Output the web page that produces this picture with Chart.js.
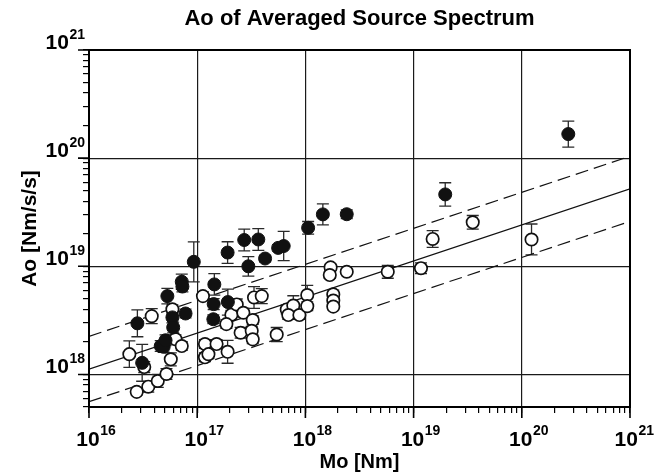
<!DOCTYPE html>
<html>
<head>
<meta charset="utf-8">
<script src="https://cdn.jsdelivr.net/npm/chart.js@4/dist/chart.umd.min.js"></script>
<style>
  html, body { margin: 0; padding: 0; background: #fff; }
  #wrap { width: 656px; height: 472px; }
</style>
</head>
<body>
<div id="wrap"><canvas id="c" width="656" height="472"></canvas></div>
<script>
// ---- Data ----
// Filled circles: seismic moment Mo [Nm], Ao [Nm/s/s], error half-width (decades)
const filledMo = [2.8e16, 3.1e16, 4.6e16, 4.9e16, 5.1e16, 5.3e16, 5.9e16, 6.0e16, 7.2e16, 7.3e16,
                  7.8e16, 9.3e16, 1.44e17, 1.42e17, 1.41e17, 1.91e17, 1.92e17, 2.72e17, 3.67e17, 2.97e17,
                  4.24e17, 5.6e17, 6.3e17, 1.06e18, 1.45e18, 2.41e18, 1.96e19, 2.69e20];
const filledAo = [2.97e18, 1.28e18, 1.83e18, 1.8e18, 2.07e18, 5.3e18, 3.37e18, 2.72e18, 7.2e18, 6.5e18,
                  3.66e18, 1.10e19, 6.8e18, 4.47e18, 3.24e18, 1.34e19, 4.67e18, 1.75e19, 1.77e19, 1.0e19,
                  1.18e19, 1.48e19, 1.54e19, 2.27e19, 3.02e19, 3.03e19, 4.62e19, 1.67e20];
const filledErr = [0.124, 0.17, 0.05, 0.05, 0.05, 0.072, 0.05, 0.05, 0.07, 0.05,
                   0.04, 0.185, 0.1, 0.05, 0.04, 0.1, 0.12, 0.1, 0.1, 0.09,
                   0.03, 0.03, 0.135, 0.058, 0.097, 0.04, 0.108, 0.12];

// Open circles
const openMo = [2.36e16, 2.76e16, 3.24e16, 3.53e16, 3.8e16, 4.32e16, 5.2e16, 5.7e16, 5.9e16, 6.3e16,
                7.2e16, 1.13e17, 1.18e17, 1.18e17, 1.27e17, 1.51e17, 1.91e17, 2.07e17, 1.86e17, 2.32e17,
                2.67e17, 3.26e17, 3.35e17, 3.95e17, 2.52e17, 3.19e17, 3.26e17, 5.43e17, 6.72e17, 7.73e17,
                6.95e17, 8.8e17, 1.04e18, 1.04e18, 1.71e18, 1.68e18, 2.41e18, 1.81e18, 1.81e18, 1.81e18,
                5.77e18, 1.17e19, 1.50e19, 3.52e19, 1.23e20];
const openAo = [1.54e18, 6.9e17, 1.17e18, 7.7e17, 3.46e18, 8.7e17, 1.01e18, 1.38e18, 4.0e18, 2.12e18,
                1.83e18, 5.3e18, 1.91e18, 1.44e18, 1.54e18, 1.91e18, 1.62e18, 3.57e18, 2.92e18, 4.44e18,
                3.72e18, 3.18e18, 5.15e18, 5.3e18, 2.43e18, 2.53e18, 2.11e18, 2.34e18, 3.99e18, 4.34e18,
                3.54e18, 3.54e18, 5.42e18, 4.28e18, 9.77e18, 8.3e18, 8.9e18, 5.5e18, 4.82e18, 4.24e18,
                8.9e18, 9.6e18, 1.79e19, 2.55e19, 1.77e19];
const openErr = [0.123, 0.03, 0.05, 0.05, 0.07, 0.06, 0.05, 0.06, 0.04, 0.04,
                 0.04, 0.04, 0.04, 0.04, 0.04, 0.04, 0.106, 0.04, 0.04, 0.05,
                 0.04, 0.04, 0.1, 0.07, 0.05, 0.04, 0.04, 0.065, 0.04, 0.09,
                 0.04, 0.04, 0.09, 0.04, 0.03, 0.03, 0.02, 0.04, 0.03, 0.03,
                 0.06, 0.05, 0.077, 0.063, 0.143];

// Reference lines (end points at Mo = 1e16 and 1e21)
const lineMo = [1e16, 1e21];
const solidAo = [1.12e18, 5.2e19];
const upperAo = [2.25e18, 1.04e20];
const lowerAo = [5.6e17, 2.6e19];

// Axis ticks
const xMajor = [1e16, 1e17, 1e18, 1e19, 1e20, 1e21];
const xExpLabels = ['16', '17', '18', '19', '20', '21'];
const yMajor = [1e18, 1e19, 1e20, 1e21];
const yExpLabels = ['18', '19', '20', '21'];
const minorMult = [2, 3, 4, 5, 6, 7, 8, 9];

const FONT = '"Liberation Sans", Arial, Helvetica, sans-serif';

function pts(xs, ys) { return xs.map((x, i) => ({ x: x, y: ys[i] })); }
function allTicks(majors, lo, hi) {
  const out = [];
  majors.forEach(m => {
    out.push({ value: m, major: true });
    minorMult.forEach(k => out.push({ value: m * k, major: false }));
  });
  minorMult.forEach(k => out.push({ value: majors[0] / 10 * k, major: false }));
  return out.filter(t => t.value >= lo * 0.999 && t.value <= hi * 1.001).sort((a, b) => a.value - b.value);
}
function isMajorVal(v) {
  const l = Math.log10(v);
  return Math.abs(l - Math.round(l)) < 1e-6;
}

const errorBars = {
  id: 'errorBars',
  beforeDatasetsDraw(chart) {
    const ctx = chart.ctx, xs = chart.scales.x, ys = chart.scales.y;
    const sets = [[filledMo, filledAo, filledErr], [openMo, openAo, openErr]];
    ctx.save();
    ctx.strokeStyle = '#2a2a2a';
    ctx.lineWidth = 1.3;
    sets.forEach(([mx, ay, er]) => {
      mx.forEach((m, i) => {
        const e = er[i];
        if (!e) return;
        const px = xs.getPixelForValue(m);
        const yHi = ys.getPixelForValue(ay[i] * Math.pow(10, e));
        const yLo = ys.getPixelForValue(ay[i] / Math.pow(10, e));
        ctx.beginPath();
        ctx.moveTo(px, yHi); ctx.lineTo(px, yLo);
        ctx.moveTo(px - 6, yHi); ctx.lineTo(px + 6, yHi);
        ctx.moveTo(px - 6, yLo); ctx.lineTo(px + 6, yLo);
        ctx.stroke();
      });
    });
    ctx.restore();
  }
};

const frameAndLabels = {
  id: 'frameAndLabels',
  afterDraw(chart) {
    const ctx = chart.ctx, a = chart.chartArea, xs = chart.scales.x, ys = chart.scales.y;
    ctx.save();
    ctx.strokeStyle = '#000';
    ctx.lineWidth = 2;
    ctx.strokeRect(a.left, a.top, a.right - a.left, a.bottom - a.top);
    ctx.lineWidth = 1.6;
    ctx.beginPath();
    xMajor.forEach(v => {
      const px = xs.getPixelForValue(v);
      ctx.moveTo(px, a.bottom); ctx.lineTo(px, a.bottom + 11);
    });
    yMajor.forEach(v => {
      const py = ys.getPixelForValue(v);
      ctx.moveTo(a.left, py); ctx.lineTo(a.left - 11, py);
    });
    ctx.stroke();
    ctx.fillStyle = '#000';
    ctx.textBaseline = 'alphabetic';
    const base = 'bold 21px ' + FONT, sup = 'bold 14px ' + FONT;
    xMajor.forEach((v, i) => {
      const px = xs.getPixelForValue(v);
      ctx.font = base;
      const w10 = ctx.measureText('10').width;
      ctx.font = sup;
      const we = ctx.measureText(xExpLabels[i]).width;
      let x0 = px - 1 - w10 / 2;
      if (x0 + w10 + 0.5 + we > chart.width - 2) x0 = chart.width - 2 - we - 0.5 - w10;
      ctx.textAlign = 'left';
      ctx.font = base;
      ctx.fillText('10', x0, a.bottom + 39);
      ctx.font = sup;
      ctx.fillText(xExpLabels[i], x0 + w10 + 0.5, a.bottom + 28);
    });
    yMajor.forEach((v, i) => {
      const py = ys.getPixelForValue(v);
      ctx.font = sup;
      const we = ctx.measureText(yExpLabels[i]).width;
      ctx.textAlign = 'right';
      const right = a.left - 4;
      ctx.fillText(yExpLabels[i], right, py - 11);
      ctx.font = base;
      ctx.fillText('10', right - we - 0.5, py - 1);
    });
    ctx.restore();
  }
};

const gridColor = (c) => (c.tick && isMajorVal(c.tick.value)) ? '#1a1a1a' : 'rgba(0,0,0,0)';

new Chart(document.getElementById('c'), {
  type: 'scatter',
  data: {
    datasets: [
      { label: 'filled', data: pts(filledMo, filledAo), pointRadius: 6.5, pointHoverRadius: 6.5,
        backgroundColor: '#111', borderColor: '#111', borderWidth: 1 },
      { label: 'open', data: pts(openMo, openAo), pointRadius: 6.2, pointHoverRadius: 6.2,
        backgroundColor: '#fff', borderColor: '#111', borderWidth: 1.7 },
      { label: 'fit', type: 'line', data: pts(lineMo, solidAo), showLine: true, pointRadius: 0,
        borderColor: '#111', borderWidth: 1.3, fill: false },
      { label: 'upper', type: 'line', data: pts(lineMo, upperAo), showLine: true, pointRadius: 0,
        borderColor: '#111', borderWidth: 1.2, borderDash: [13, 6], fill: false },
      { label: 'lower', type: 'line', data: pts(lineMo, lowerAo), showLine: true, pointRadius: 0,
        borderColor: '#111', borderWidth: 1.2, borderDash: [13, 6], fill: false }
    ]
  },
  options: {
    responsive: false,
    animation: false,
    events: [],
    layout: { padding: { left: 0, right: 26, top: 0, bottom: 0 } },
    plugins: {
      legend: { display: false },
      tooltip: { enabled: false },
      title: {
        display: true, fullSize: false,
        text: 'Ao of Averaged Source Spectrum',
        color: '#000',
        font: { family: FONT, size: 22, weight: 'bold', lineHeight: 1.2 },
        padding: { top: 6, bottom: 17.6 }
      }
    },
    scales: {
      x: {
        type: 'logarithmic', position: 'bottom', min: 1e16, max: 1e21,
        afterBuildTicks: (s) => { s.ticks = allTicks(xMajor, 1e16, 1e21); },
        afterFit: (s) => { s.height = 65; },
        ticks: { display: false },
        grid: { color: gridColor, lineWidth: 1.2, drawTicks: true, tickLength: 6, tickColor: '#000', tickWidth: 1.2 },
        border: { display: true, color: '#000', width: 2 },
        title: { display: true, text: 'Mo [Nm]', color: '#000',
                 font: { family: FONT, size: 20, weight: 'bold', lineHeight: 1.0 }, padding: { top: 0, bottom: 0 } }
      },
      y: {
        type: 'logarithmic', position: 'left', min: 5e17, max: 1e21,
        afterBuildTicks: (s) => { s.ticks = allTicks(yMajor, 5e17, 1e21); },
        afterFit: (s) => { s.width = 89; },
        ticks: { display: false },
        grid: { color: gridColor, lineWidth: 1.2, drawTicks: true, tickLength: 6, tickColor: '#000', tickWidth: 1.2 },
        border: { display: true, color: '#000', width: 2 },
        title: { display: true, text: 'Ao [Nm/s/s]', color: '#000',
                 font: { family: FONT, size: 21, weight: 'bold', lineHeight: 1.0 }, padding: { top: 20, bottom: 20 } }
      }
    }
  },
  plugins: [errorBars, frameAndLabels]
});
</script>
</body>
</html>
